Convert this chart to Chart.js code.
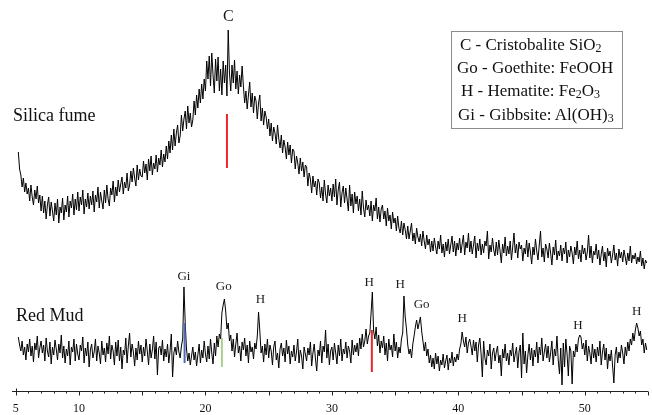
<!DOCTYPE html>
<html><head><meta charset="utf-8">
<script src="https://cdn.jsdelivr.net/npm/chart.js@4.4.1/dist/chart.umd.min.js"></script>
<style>
html,body{margin:0;padding:0;background:#fff}
#wrap{position:relative;width:652px;height:415px;overflow:hidden}
canvas{position:absolute;left:0;top:0}
.lbl{position:absolute;font-family:"Liberation Serif","Times New Roman",serif;color:#111;white-space:nowrap;font-size:18px;line-height:18px}
#legend{position:absolute;left:451px;top:31px;width:172px;height:98px;border:1px solid #8c8c8c;box-sizing:border-box}
.lg{position:absolute;font-family:"Liberation Serif","Times New Roman",serif;color:#111;white-space:nowrap;font-size:17px;line-height:23px}
.lg sub{font-size:12px;vertical-align:-2px;line-height:0}
</style></head>
<body>
<div id="wrap">
<canvas id="c" width="652" height="415"></canvas>
<div class="lbl" style="left:13px;top:106px">Silica fume</div>
<div class="lbl" style="left:16px;top:306px">Red Mud</div>
<div id="legend"></div>
<div class="lg" style="left:460px;top:33px">C - Cristobalite SiO<sub>2</sub></div>
<div class="lg" style="left:457px;top:56px">Go - Goethite: FeOOH</div>
<div class="lg" style="left:461px;top:79px">H - Hematite: Fe<sub>2</sub>O<sub>3</sub></div>
<div class="lg" style="left:458px;top:103px">Gi - Gibbsite: Al(OH)<sub>3</sub></div>
</div>
<script>
// 2-theta sampling: 5.2 .. 54.9 step 0.1
const angleStart = 5.2, angleStep = 0.1;

const silicaFume = [
239,222,216,204,213,199,208,197,
203,190,206,194,186,201,192,205,188,196,
180,195,178,190,172,186,194,175,189,180,
170,188,176,192,168,184,178,193,171,186,
179,195,174,190,183,197,176,192,181,199,
180,194,186,201,177,192,184,198,182,195,
186,200,179,196,189,204,183,199,190,182,
201,188,206,192,185,203,196,210,189,204,
195,211,199,207,214,197,209,203,218,200,
206,220,209,223,213,205,226,211,222,215,
214,230,218,227,211,232,220,235,216,228,
222,236,219,233,226,241,224,237,229,245,
232,250,238,256,241,262,245,258,266,248,
255,276,260,272,280,262,285,268,278,264,
271,290,276,296,283,302,288,307,292,312,
300,330,312,335,305,338,316,298,332,310,
334,300,322,296,330,308,326,295,361,318,
300,326,308,331,302,320,297,316,304,325,
305,288,300,282,296,309,284,298,278,295,
290,272,288,296,270,283,266,280,274,262,
272,255,268,250,264,258,247,266,252,243,
256,238,251,244,232,249,236,246,228,242,
240,222,235,228,217,233,220,229,214,226,
224,205,218,212,198,215,204,210,196,212,
208,193,204,190,211,197,188,206,195,203,
190,207,194,212,186,201,209,184,198,205,
188,203,192,180,206,185,197,178,199,187,
195,180,192,176,200,183,174,191,181,186,
175,190,170,186,180,193,172,184,169,182,
186,172,180,165,183,170,176,162,179,168,
173,160,175,163,158,170,156,168,161,152,
165,152,160,168,150,158,147,163,154,149,
157,145,160,150,142,156,146,152,139,150,
140,153,144,137,150,142,156,138,147,134,
149,140,152,137,146,155,139,150,135,148,
141,153,138,147,156,136,149,143,158,139,
150,137,146,155,133,148,140,152,136,147,
138,150,145,160,132,146,139,153,141,135,
149,136,151,140,128,147,138,154,135,145,
137,150,131,144,158,138,147,133,149,142,
146,130,143,137,151,134,148,139,127,144,
136,152,140,131,146,160,134,143,129,147,
142,133,148,138,126,144,136,151,131,140,
135,146,130,143,137,149,128,141,134,145,
138,127,144,136,150,132,141,129,146,137,
143,131,139,156,133,145,128,140,136,147,
132,141,126,137,145,130,139,124,143,135,
140,128,136,146,131,138,125,142,133,139,
129,141,134,126,138,130,145,128,136,132,
138,127,134,129,140,125,133,122,131,128
];

const redMud = [
54,46,40,50,36,44,31,47,
39,52,35,45,29,48,41,55,33,43,
50,38,46,30,53,40,34,49,27,44,
36,51,42,31,47,38,56,33,45,28,
42,35,50,26,44,39,52,30,47,37,
31,46,40,54,28,43,35,49,24,41,
47,33,39,52,30,45,38,27,50,36,
43,29,48,37,55,32,46,40,26,49,
35,51,30,44,22,41,36,53,28,45,
58,34,47,39,25,43,31,50,37,46,
29,44,35,52,40,26,47,33,41,55,
32,49,16,43,45,36,51,30,42,34,
47,28,40,57,14,38,44,36,50,39,
33,45,52,104,68,42,30,38,26,35,
44,31,39,25,36,47,28,41,33,50,
37,29,45,32,52,38,27,48,35,55,
44,57,52,78,86,92,80,62,68,50,
56,40,52,34,47,58,38,45,30,49,
41,53,35,46,28,50,39,44,32,48,
42,55,79,60,38,45,29,47,36,52,
33,46,40,26,44,50,31,38,23,42,
48,35,43,29,51,37,45,27,40,34,
46,30,39,52,28,41,35,22,44,37,
30,43,36,49,25,38,47,32,20,41,
35,50,28,45,39,61,33,47,26,40,
44,31,48,38,27,46,35,52,30,42,
37,49,33,45,40,28,51,36,46,39,
48,35,53,42,57,44,50,62,47,55,
58,78,99,60,52,64,45,56,38,50,
43,55,36,48,30,52,41,46,34,57,
40,49,33,44,38,52,58,95,74,62,
46,37,42,33,47,55,64,71,62,68,
74,60,50,40,49,35,42,28,36,24,
33,22,38,27,35,20,31,26,37,23,
30,36,21,33,28,39,25,34,29,37,
31,42,47,59,50,44,54,38,48,52,
45,36,51,40,49,29,46,53,37,14,
50,33,26,41,35,47,22,38,43,30,
39,45,28,36,15,42,33,47,30,38,
26,41,35,48,29,37,44,23,39,46,
13,58,27,40,18,36,47,31,43,25,
41,34,49,28,44,36,53,30,39,47,
33,45,29,38,50,26,42,35,55,31,
17,43,6,48,24,52,37,15,45,40,
7,40,34,47,39,52,56,54,42,48,
36,51,30,45,38,27,47,33,42,29,
44,35,50,26,39,47,31,43,22,37,
30,41,25,8,36,44,28,39,33,46,
38,27,44,35,49,40,52,46,58,50,
61,68,63,55,60,46,52,38,48,41
];

// x-axis tick labels
const tickValues = [5, 10, 20, 30, 40, 50];

// phase reference markers (angle, low intensity, high intensity)
const markerAngles = [21.7, 18.35, 21.3, 33.16];
const markerLow    = [223, 28, 24, 19];
const markerHigh   = [277, 68, 53, 61];
const markerColors = ['#e8262c', '#4e6db3', '#a9d18e', '#e8262c'];

// peak annotations (text, angle, intensity level of label centre)
const peakNames  = ['C', 'Gi', 'Go', 'H', 'H', 'H', 'Go', 'H', 'H', 'H'];
const peakAngles = [21.8, 18.3, 21.45, 24.35, 32.95, 35.4, 37.1, 40.3, 49.45, 54.1];
const peakLevels = [374, 114, 104, 91, 108, 106, 86, 72, 65, 79];

const angleAt = i => Math.round((angleStart + i * angleStep) * 100) / 100;
const toPts = arr => arr.map((v, i) => ({x: angleAt(i), y: v}));

const datasets = [];
markerAngles.forEach((a, i) => {
  datasets.push({
    data: [{x: a, y: markerLow[i]}, {x: a, y: markerHigh[i]}],
    borderColor: markerColors[i], borderWidth: 2, pointRadius: 0, order: 0
  });
});
datasets.push({data: toPts(silicaFume), borderColor: '#000', borderWidth: 1, pointRadius: 0, tension: 0, order: 1});
datasets.push({data: toPts(redMud), borderColor: '#000', borderWidth: 1, pointRadius: 0, tension: 0, order: 1});

const axisPlugin = {
  id: 'axisPlugin',
  afterDraw(chart) {
    const ctx = chart.ctx, xs = chart.scales.x, ys = chart.scales.y;
    const y0 = Math.round(ys.getPixelForValue(0)) + 0.5;
    ctx.save();
    ctx.strokeStyle = '#222';
    ctx.lineWidth = 1;
    ctx.beginPath();
    ctx.moveTo(chart.chartArea.left, y0);
    ctx.lineTo(chart.chartArea.right, y0);
    for (let v = 5; v <= xs.max; v++) {
      const px = Math.round(xs.getPixelForValue(v)) + 0.5;
      const len = v % 5 === 0 ? 4 : 2;
      ctx.moveTo(px, y0);
      ctx.lineTo(px, y0 + len);
      if (v === 5) { ctx.moveTo(px, y0 - 3); ctx.lineTo(px, y0); }
    }
    ctx.stroke();
    // peak labels
    ctx.fillStyle = '#1a1a1a';
    ctx.textAlign = 'center';
    ctx.textBaseline = 'middle';
    peakNames.forEach((t, i) => {
      ctx.font = (t === 'C' ? '16px' : '13px') + ' "Liberation Serif", serif';
      ctx.fillText(t, xs.getPixelForValue(peakAngles[i]), ys.getPixelForValue(peakLevels[i]));
    });
    ctx.restore();
  }
};

new Chart(document.getElementById('c'), {
  type: 'line',
  data: {datasets},
  plugins: [axisPlugin],
  options: {
    responsive: false,
    animation: false,
    devicePixelRatio: 1,
    layout: {padding: {left: 12, right: 4, top: 10, bottom: 0}},
    plugins: {legend: {display: false}, tooltip: {enabled: false}},
    elements: {line: {tension: 0}},
    scales: {
      x: {
        type: 'linear', min: 4.7, max: 55,
        grid: {display: false, drawTicks: false},
        border: {display: false},
        afterBuildTicks: s => { s.ticks = tickValues.map(v => ({value: v})); },
        afterFit: s => { s.height = 24; },
        ticks: {autoSkip: false, maxRotation: 0, padding: 11, color: '#111',
                font: {family: '"Liberation Serif", serif', size: 12}}
      },
      y: {display: false, min: 0, max: 381}
    }
  }
});
</script>
</body></html>
